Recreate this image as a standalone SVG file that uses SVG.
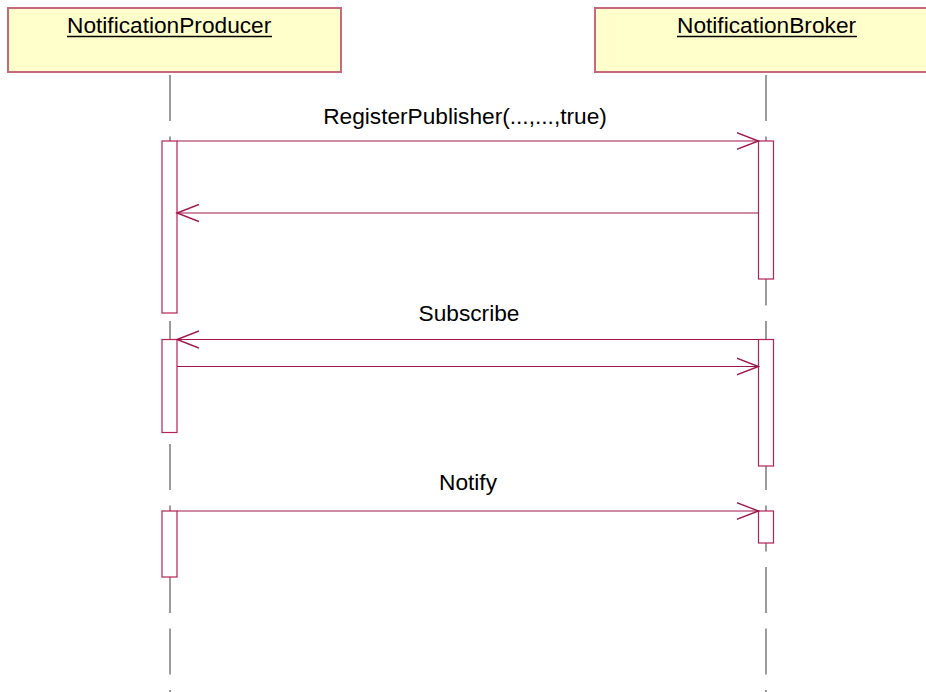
<svg xmlns="http://www.w3.org/2000/svg" width="926" height="692" viewBox="0 0 926 692">
<defs>
<style>
.hdr{fill:#ffffcc;stroke:#c8687c;stroke-width:2}
.ttl{font-family:"Liberation Sans",Arial,sans-serif;font-size:22.7px;fill:#000}
.ul{stroke:#000;stroke-width:1.5}
.life{stroke:#5a5a5a;stroke-width:1.2;stroke-dasharray:46 15.5}
.act{fill:#fff;stroke:#b32355;stroke-width:1.2}
.msg{stroke:#a0164a;stroke-width:1.2;fill:none}
.lbl{font-family:"Liberation Sans",Arial,sans-serif;font-size:22.7px;fill:#000;text-anchor:middle}
</style>
<marker id="arr" markerWidth="24" markerHeight="20" refX="22" refY="10" orient="auto" markerUnits="userSpaceOnUse">
<path d="M0,1.5 L22,10 L0,18.5" fill="none" stroke="#a0164a" stroke-width="1.4"/>
</marker>
</defs>
<rect width="926" height="692" fill="#fff"/>
<g id="lifelines">
<line class="life" x1="170" y1="75" x2="170" y2="692"/>
<line class="life" x1="766" y1="75" x2="766" y2="692"/>
</g>
<g id="NotificationProducer">
<rect class="hdr" x="8" y="8" width="333" height="64"/>
<text class="ttl" x="67" y="33">NotificationProducer</text>
<line class="ul" x1="67" y1="36.5" x2="272" y2="36.5"/>
</g>
<g id="NotificationBroker">
<rect class="hdr" x="595" y="8" width="340" height="64"/>
<text class="ttl" x="677" y="33">NotificationBroker</text>
<line class="ul" x1="677" y1="36.5" x2="857" y2="36.5"/>
</g>
<g id="activations">
<rect class="act" x="162" y="141" width="15" height="172"/>
<rect class="act" x="162" y="339.5" width="15" height="93"/>
<rect class="act" x="162" y="511" width="15" height="66"/>
<rect class="act" x="758.5" y="141" width="15" height="138"/>
<rect class="act" x="758.5" y="339.5" width="15" height="126.5"/>
<rect class="act" x="758.5" y="511" width="15" height="32"/>
</g>
<g id="connectors">
<line class="msg" x1="177" y1="141" x2="758.5" y2="141" marker-end="url(#arr)"/>
<line class="msg" x1="758.5" y1="213" x2="177" y2="213" marker-end="url(#arr)"/>
<line class="msg" x1="758.5" y1="339.5" x2="177" y2="339.5" marker-end="url(#arr)"/>
<line class="msg" x1="177" y1="366.5" x2="758.5" y2="366.5" marker-end="url(#arr)"/>
<line class="msg" x1="177" y1="511" x2="758.5" y2="511" marker-end="url(#arr)"/>
<text class="lbl" x="465" y="124">RegisterPublisher(...,...,true)</text>
<text class="lbl" x="469" y="321">Subscribe</text>
<text class="lbl" x="468" y="490">Notify</text>
</g>
</svg>
